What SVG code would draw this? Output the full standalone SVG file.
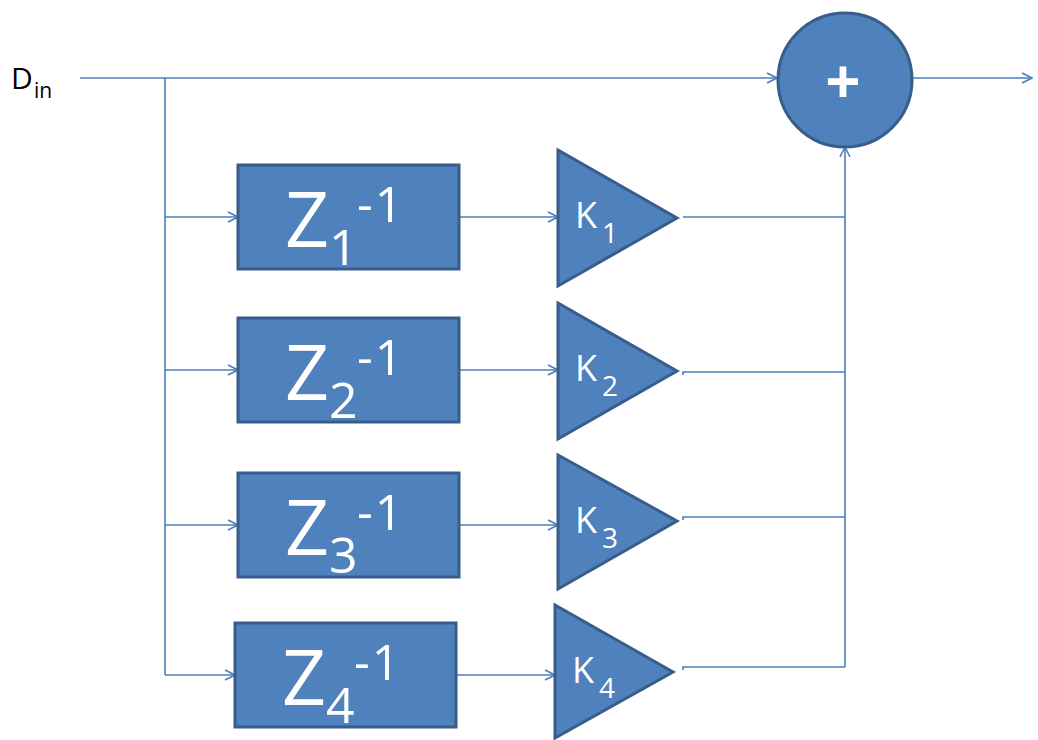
<svg xmlns="http://www.w3.org/2000/svg" width="1038" height="740" viewBox="0 0 1038 740">
  <style>
    .wire { fill: none; stroke: #4A7EBB; stroke-width: 1.6; }
    .blk { fill: #4F81BD; stroke: #385D8A; stroke-width: 3; }
    .wt { fill: #ffffff; font-family: "Open Sans", "Liberation Sans", sans-serif; }
    .bk { fill: #000000; font-family: "Open Sans", "Liberation Sans", sans-serif; }
    .zb { font-size: 77px; }
    .zs { font-size: 50px; }
    .zp { font-size: 49px; letter-spacing: 2px; }
    .kb { font-size: 36px; }
    .ks { font-size: 28px; }
  </style>
  <defs>
    <marker id="arr" viewBox="0 0 12 12" refX="11" refY="6" markerWidth="12" markerHeight="12" markerUnits="userSpaceOnUse" orient="auto">
      <path d="M1,1 L11,6 L1,11" fill="none" stroke="#4A7EBB" stroke-width="1.6"/>
    </marker>
  </defs>
  <rect width="1038" height="740" fill="#ffffff"/>

  <!-- input label -->
  <g id="din">
    <text class="bk" x="11" y="89" font-size="30">D</text>
    <text class="bk" x="34" y="98" font-size="21">in</text>
  </g>

  <!-- wiring -->
  <g id="connectors">
    <path class="wire" d="M80,78 H777" marker-end="url(#arr)"/>
    <path class="wire" d="M913,78 H1032" marker-end="url(#arr)"/>
    <path class="wire" d="M165,78 V675"/>
    <path class="wire" d="M165,217 H238" marker-end="url(#arr)"/>
    <path class="wire" d="M165,370 H238" marker-end="url(#arr)"/>
    <path class="wire" d="M165,525 H238" marker-end="url(#arr)"/>
    <path class="wire" d="M165,675 H235" marker-end="url(#arr)"/>
    <path class="wire" d="M459,217 H558" marker-end="url(#arr)"/>
    <path class="wire" d="M459,370 H558" marker-end="url(#arr)"/>
    <path class="wire" d="M459,525 H558" marker-end="url(#arr)"/>
    <path class="wire" d="M456,675 H555" marker-end="url(#arr)"/>
    <path class="wire" d="M683,217 H845"/>
    <path class="wire" d="M683,375 V372 H845"/>
    <path class="wire" d="M683,520 V517 H845"/>
    <path class="wire" d="M683,670 V667 H845"/>
    <path class="wire" d="M845,667 V147" marker-end="url(#arr)"/>
  </g>

  <!-- summing junction -->
  <g id="sum">
    <circle class="blk" cx="845" cy="80" r="67"/>
    <text class="wt" x="843" y="104" font-size="62" font-weight="bold" text-anchor="middle">+</text>
  </g>

  <!-- delay blocks -->
  <g id="z1">
    <rect class="blk" x="238" y="165" width="221" height="104"/>
    <text class="wt"><tspan class="zb" x="285" y="247">Z</tspan><tspan class="zs" x="329" y="265">1</tspan><tspan class="zp" x="357" y="222">-1</tspan></text>
  </g>
  <g id="z2">
    <rect class="blk" x="238" y="318" width="221" height="104"/>
    <text class="wt"><tspan class="zb" x="285" y="400">Z</tspan><tspan class="zs" x="329" y="418">2</tspan><tspan class="zp" x="357" y="375">-1</tspan></text>
  </g>
  <g id="z3">
    <rect class="blk" x="238" y="473" width="221" height="104"/>
    <text class="wt"><tspan class="zb" x="285" y="555">Z</tspan><tspan class="zs" x="329" y="573">3</tspan><tspan class="zp" x="357" y="530">-1</tspan></text>
  </g>
  <g id="z4">
    <rect class="blk" x="235" y="623" width="221" height="104"/>
    <text class="wt"><tspan class="zb" x="282" y="705">Z</tspan><tspan class="zs" x="326" y="723">4</tspan><tspan class="zp" x="354" y="680">-1</tspan></text>
  </g>

  <!-- gain blocks -->
  <g id="k1">
    <path class="blk" d="M558,150 L677,218 L558,286 Z"/>
    <text class="wt"><tspan class="kb" x="575" y="228">K</tspan><tspan class="ks" x="602" y="243">1</tspan></text>
  </g>
  <g id="k2">
    <path class="blk" d="M558,303 L677,371 L558,439 Z"/>
    <text class="wt"><tspan class="kb" x="575" y="381">K</tspan><tspan class="ks" x="602" y="396">2</tspan></text>
  </g>
  <g id="k3">
    <path class="blk" d="M558,455 L677,521 L558,589 Z"/>
    <text class="wt"><tspan class="kb" x="575" y="533">K</tspan><tspan class="ks" x="602" y="548">3</tspan></text>
  </g>
  <g id="k4">
    <path class="blk" d="M555,605 L673,672 L555,738 Z"/>
    <text class="wt"><tspan class="kb" x="572" y="683">K</tspan><tspan class="ks" x="599" y="698">4</tspan></text>
  </g>
</svg>
